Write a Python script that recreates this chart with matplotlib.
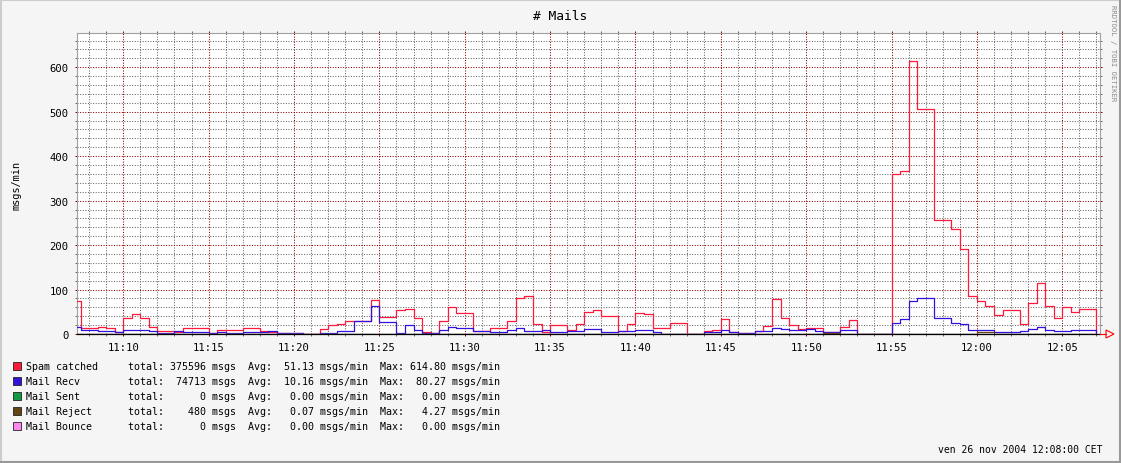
import numpy as np
import matplotlib
matplotlib.use("Agg")
import matplotlib.pyplot as plt
from matplotlib.patches import Rectangle, Polygon
from matplotlib.lines import Line2D

W, H = 1121, 464

# sample start times, minutes after 11:00 (30 s steps, 11:07:00 .. 12:07:00)
minutes = np.arange(7.0, 67.5, 0.5)

spam = [
    75, 14, 14, 16, 14, 5, 36, 45, 36, 15,            # 11:07 - 11:11:30
    7.5, 7.5, 5, 13.5, 13.5, 13.5, 2, 10, 10, 10,      # 11:12 - 11:16:30
    13.5, 13.5, 6, 4, 2, 2, 2, 0, 0, 11,               # 11:17 - 11:21:30
    21, 23, 28.5, 28.5, 28.5, 77, 38, 38, 55, 57,      # 11:22 - 11:26:30
    36, 4, 2, 28.5, 61, 47, 47, 6, 6, 13.5,            # 11:27 - 11:31:30
    13.5, 28.5, 81, 86, 23, 4.5, 21, 21, 8, 22.5,      # 11:32 - 11:36:30
    49.5, 53, 41, 41, 7.5, 22.5, 47, 44, 13.5, 13.5,   # 11:37 - 11:41:30
    25, 25, 0, 0, 7, 8, 34, 4.5, 2, 2,                 # 11:42 - 11:46:30
    6, 19, 79, 36, 21, 12, 13.5, 13.5, 4.5, 4.5,       # 11:47 - 11:51:30
    15, 32, 0, 0, 0, 0, 360, 367, 615, 505,            # 11:52 - 11:56:30
    505, 256, 256, 236, 191, 86, 73.5, 62, 43.5, 53,   # 11:57 - 12:01:30
    53, 23, 70, 115, 64, 36, 61, 49.5, 56, 56,         # 12:02 - 12:06:30
    0,                                                 # 12:07
]
recv = [
    15, 10, 10, 7.5, 7.5, 4.5, 9, 9, 9, 7.5,
    2, 2, 7.5, 4.5, 4.5, 4.5, 2, 4.5, 2, 2,
    4.5, 4.5, 4.5, 7.5, 2, 2, 2, 0, 0, 2,
    3, 7.5, 7.5, 28.5, 28.5, 64, 26, 26, 2, 21,
    10, 2, 2, 10, 16, 13.5, 13.5, 7.5, 7.5, 4.5,
    4.5, 10, 13.5, 7.5, 7.5, 10, 4.5, 4.5, 7.5, 7.5,
    11, 11, 4.5, 4.5, 7.5, 7.5, 8, 8, 4.5, 0,
    0, 0, 0, 0, 4.5, 4.5, 10, 4.5, 2, 2,
    6, 6, 13.5, 11, 8, 8, 11, 7.5, 4.5, 4.5,
    10, 10, 0, 0, 0, 0, 24, 33, 73.5, 80.3,
    80.3, 36, 36, 25, 22.5, 10, 10, 10, 4.5, 4.5,
    4.5, 7.5, 12, 16, 10, 7.5, 7.5, 10, 10, 10,
    0,
]
sent = [0.0] * len(minutes)
bounce = [0.0] * len(minutes)
reject_steps = {51.0: 3.0, 51.5: 3.0, 60.0: 4.27, 60.5: 4.27}
reject = [reject_steps.get(m, 0.0) for m in minutes]

legend_names = ["Spam catched", "Mail Recv", "Mail Sent", "Mail Reject", "Mail Bounce"]
legend_colors = ["#ff1a3c", "#3311dd", "#119944", "#664411", "#ff88ee"]
legend_total = [375596, 74713, 0, 480, 0]
legend_avg = [51.13, 10.16, 0.00, 0.07, 0.00]
legend_max = [614.80, 80.27, 0.00, 4.27, 0.00]

x_major = list(range(10, 66, 5))
x_labels = ["11:%02d" % m if m < 60 else "12:%02d" % (m - 60) for m in x_major]

MONO = "DejaVu Sans Mono"
MINOR = "#6a6a6a"
MAJOR = "#8b0000"
DOTS = (0, (1, 1.5))  # dotted grid, scaled by the line width


def fx(x):
    return x / W


def fy(y):
    return 1 - y / H


def main():
    fig = plt.figure(figsize=(W / 100, H / 100), dpi=100, facecolor="#f5f5f5")
    ax = fig.add_axes([fx(77), fy(335), fx(1100) - fx(77), fy(34) - fy(335)])
    ax.set_facecolor("#ffffff")

    ax.set_xlim(7.29, 67.21)
    ax.set_ylim(0, 677)

    # grid
    ax.set_axisbelow(True)
    ax.set_xticks(x_major)
    ax.set_xticks(range(8, 68), minor=True)
    ax.set_yticks(range(0, 700, 100))
    ax.set_yticks(range(0, 680, 20), minor=True)
    ax.set_xticklabels(x_labels, fontfamily=MONO, fontsize=7.6)
    ax.set_yticklabels([str(v) for v in range(0, 700, 100)], fontfamily=MONO, fontsize=7.6)
    ax.grid(which="minor", color=MINOR, linestyle=DOTS, linewidth=0.75)
    ax.grid(which="major", color=MAJOR, linestyle=DOTS, linewidth=0.75)
    ax.tick_params(which="both", direction="out", length=1.6, width=0.72,
                   top=True, right=True)
    ax.tick_params(which="major", colors=MAJOR, labelcolor="black")
    ax.tick_params(which="minor", colors=MINOR)
    ax.tick_params(axis="x", which="major", pad=4)
    ax.tick_params(axis="y", which="major", pad=4.5)

    for side in ("top", "left", "right"):
        ax.spines[side].set_color("#a0a0a0")
        ax.spines[side].set_linewidth(0.8)
    ax.spines["bottom"].set_color("black")
    ax.spines["bottom"].set_linewidth(0.9)
    ax.spines["bottom"].set_zorder(5)

    series = [spam, recv, sent, reject, bounce]
    for vals, col in zip(series, legend_colors):
        ax.step(minutes, vals, where="post", color=col, linewidth=0.9, zorder=3)

    # x axis arrow
    fig.add_artist(Line2D([fx(1100), fx(1106)], [fy(335), fy(335)], color="#ff0000", lw=0.8))
    fig.add_artist(Polygon([(fx(1106), fy(331)), (fx(1106), fy(339)), (fx(1114), fy(335))],
                           closed=True, fill=False, edgecolor="#ff0000", lw=0.8))

    fig.text(fx(560.5), fy(16), "# Mails", fontfamily=MONO, fontsize=9.3,
             ha="center", va="center")
    fig.text(fx(17), fy(185), "msgs/min", fontfamily=MONO, fontsize=7.4,
             rotation=90, ha="center", va="center")
    fig.text(fx(1113), fy(5), "RRDTOOL / TOBI OETIKER", fontfamily=MONO, fontsize=5.2,
             rotation=270, ha="center", va="top", color="#8a8a8a")

    for i, name in enumerate(legend_names):
        yc = 367 + 15 * i
        fig.add_artist(Rectangle((fx(12.5), fy(yc + 4)), fx(8), 8 / H,
                                 facecolor=legend_colors[i], edgecolor="#222222", lw=0.6))
        row = "%-17stotal: %6d msgs  Avg: %6.2f msgs/min  Max: %6.2f msgs/min" % (
            name, legend_total[i], legend_avg[i], legend_max[i])
        fig.text(fx(26), fy(yc), row, fontfamily=MONO, fontsize=7.18, ha="left", va="center")

    fig.text(fx(1102), fy(450), "ven 26 nov 2004 12:08:00 CET", fontfamily=MONO,
             fontsize=7.0, ha="right", va="center")

    # outer frame
    fig.add_artist(Line2D([0, 1], [fy(1), fy(1)], color="#cccccc", lw=1.5))
    fig.add_artist(Line2D([fx(1), fx(1)], [0, 1], color="#cccccc", lw=1.5))
    fig.add_artist(Line2D([0, 1], [fy(463), fy(463)], color="#999999", lw=1.5))
    fig.add_artist(Line2D([fx(1120), fx(1120)], [0, 1], color="#999999", lw=1.5))

    fig.savefig("out.png", dpi=100, facecolor=fig.get_facecolor())
    return 0


if __name__ == "__main__":
    main()
